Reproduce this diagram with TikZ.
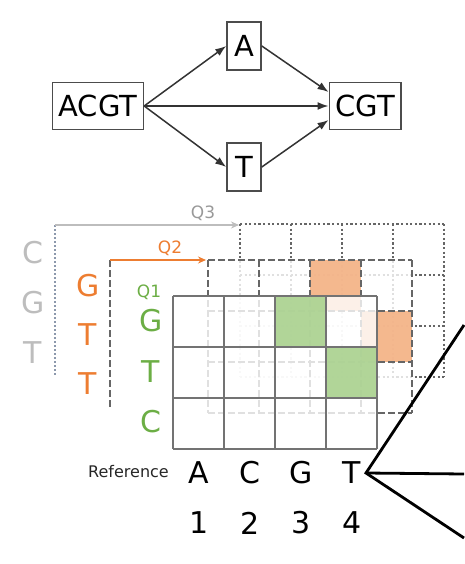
\documentclass[tikz,border=0pt]{standalone}
\usepackage{fontspec}
\setmainfont{DejaVu Sans}
\usetikzlibrary{arrows.meta}

\definecolor{qgrey}{HTML}{BDBDBD}
\definecolor{qorange}{HTML}{ED7D31}
\definecolor{qgreen}{HTML}{6CAE45}
\definecolor{cellorange}{HTML}{F4B183}
\definecolor{cellgreen}{HTML}{A9D18E}
\definecolor{linegrey}{HTML}{666666}
\definecolor{bracketgrey}{HTML}{8C98AC}

\begin{document}
\begin{tikzpicture}[x=1pt,y=-1pt,
  seqbox/.style={draw=black!70,line width=1.6pt,inner xsep=6pt,minimum height=47pt,
    font=\fontsize{29}{34}\selectfont},
  edge/.style={-{Latex[length=11pt,width=8pt]},line width=1.5pt,draw=black!80},
  base/.style={font=\fontsize{30}{36}\selectfont,inner sep=0pt},
  qlabel/.style={font=\fontsize{17}{20}\selectfont,inner sep=0pt},
  dotline/.style={draw=linegrey,line width=2.2pt,dash pattern=on 2.2pt off 2.4pt},
  dashline/.style={draw=linegrey,line width=2.4pt,dash pattern=on 6.5pt off 3.5pt},
  solidline/.style={draw=black!55,line width=2.4pt}]

\useasboundingbox (0,0) rectangle (464,564);

% graph
\node[seqbox] (acgt) at (98,106) {ACGT};
\node[seqbox,minimum width=34pt,minimum height=48pt] (a) at (244,46) {A};
\node[seqbox,minimum width=34pt,minimum height=48pt] (t) at (244,167) {T};
\node[seqbox] (cgt) at (365,106) {CGT};

\draw[edge] (acgt.east) -- (a.west);
\draw[edge] (acgt.east) -- (t.west);
\draw[edge] (acgt.east) -- (cgt.west);
\draw[edge] (a.east) -- (cgt.159);
\draw[edge] (t.east) -- (cgt.201);

% Q3 grid
\foreach \i in {0,...,4}
  \draw[dotline] (240+51*\i,224) -- (240+51*\i,377);
\foreach \j in {0,...,3}
  \draw[dotline] (240,224+51*\j) -- (444,224+51*\j);

% Q2 grid
\fill[white,opacity=0.8] (208,260) rectangle (412,413);
\fill[cellorange,opacity=0.9] (310,260) rectangle (361,311);
\fill[cellorange,opacity=0.9] (361,311) rectangle (412,362);
\foreach \i in {0,...,4}
  \draw[dashline] (208+51*\i,260) -- (208+51*\i,413);
\foreach \j in {0,...,3}
  \draw[dashline] (208,260+51*\j) -- (412,260+51*\j);

% Q1 grid
\fill[white,opacity=0.8] (173,296) rectangle (377,449);
\fill[cellgreen,opacity=0.9] (276,296) rectangle (327,347);
\fill[cellgreen,opacity=0.9] (327,347) rectangle (377,398);
\foreach \i in {0,...,4}
  \draw[solidline] (173+51*\i,296) -- (173+51*\i,449);
\foreach \j in {0,...,3}
  \draw[solidline] (173,296+51*\j) -- (377,296+51*\j);

% queries
\foreach \s [count=\k from 0] in {C,G,T}
  \node[base,text=qgrey] (qthree\k) at (33,253+50*\k) {\s};
\foreach \s [count=\k from 0] in {G,T,T}
  \node[base,text=qorange] (qtwo\k) at (88,286+49*\k) {\s};
\foreach \s [count=\k from 0] in {G,T,C}
  \node[base,text=qgreen] (qone\k) at (151,321+50.5*\k) {\s};

\coordinate (qthreetop) at (55,225);
\coordinate (qthreebot) at (55,375);
\coordinate (qthreeend) at (239,225);
\draw[draw=bracketgrey,line width=1.8pt,dash pattern=on 1.8pt off 2.2pt] (qthreetop) -- (qthreebot);
\draw[draw=qgrey,line width=1.1pt,-{Stealth[length=8pt,width=7pt]}] (qthreetop) -- (qthreeend);
\node[qlabel,text=gray!80] (qthreelab) at (203,213) {Q3};

\coordinate (qtwotop) at (110,260);
\coordinate (qtwobot) at (110,410);
\coordinate (qtwoend) at (206,260);
\draw[dashline] (qtwotop) -- (qtwobot);
\draw[draw=qorange,line width=1.2pt,-{Stealth[length=8pt,width=7pt]}] (qtwotop) -- (qtwoend);
\node[qlabel,text=qorange] (qtwolab) at (170,248) {Q2};

\node[qlabel,text=qgreen] (qonelab) at (149,292) {Q1};

% reference
\node[font=\fontsize{16}{19}\selectfont,text=black!85,anchor=east,inner sep=0pt] (reflab) at (169,472) {Reference};
\foreach \s [count=\k from 0] in {A,C,G,T}
  \node[base] (ref\k) at (199+51*\k,473) {\s};
\foreach \n [count=\k from 0] in {1,2,3,4}
  \node[base] (pos\k) at (199+51*\k,523) {\n};

\coordinate (apex) at (366,473);
\coordinate (upend) at (464,325);
\coordinate (midend) at (464,474);
\coordinate (lowend) at (464,538);
\draw[line width=2.8pt] (upend) -- (apex) -- (lowend);
\draw[line width=2.8pt] (apex) -- (midend);

\end{tikzpicture}
\end{document}
